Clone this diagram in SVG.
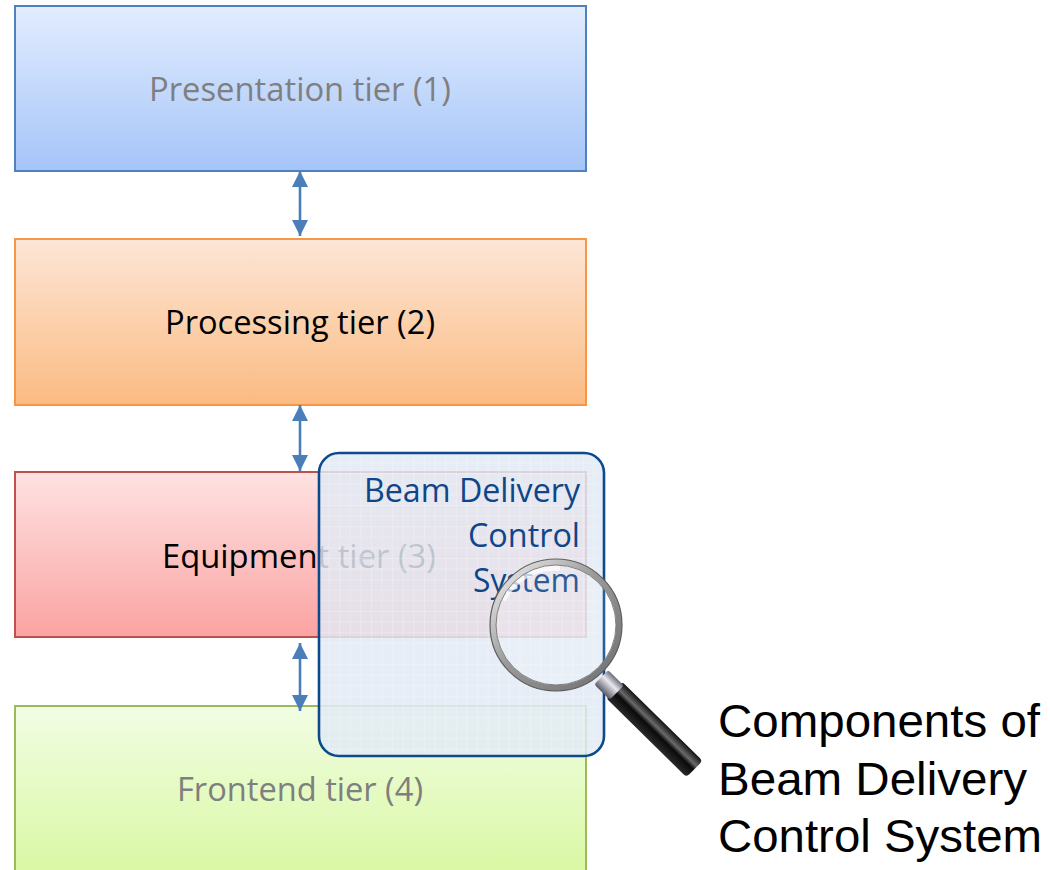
<svg xmlns="http://www.w3.org/2000/svg" width="1050" height="870" viewBox="0 0 1050 870">
  <defs>
    <linearGradient id="gBlue" x1="0" y1="0" x2="0" y2="1">
      <stop offset="0" stop-color="#e2edfe"/>
      <stop offset="1" stop-color="#a5c4f8"/>
    </linearGradient>
    <linearGradient id="gOrange" x1="0" y1="0" x2="0" y2="1">
      <stop offset="0" stop-color="#fde6d6"/>
      <stop offset="1" stop-color="#fbbb82"/>
    </linearGradient>
    <linearGradient id="gRed" x1="0" y1="0" x2="0" y2="1">
      <stop offset="0" stop-color="#fee2e2"/>
      <stop offset="1" stop-color="#fba3a2"/>
    </linearGradient>
    <linearGradient id="gGreen" x1="0" y1="0" x2="0" y2="1">
      <stop offset="0" stop-color="#f1fde3"/>
      <stop offset="1" stop-color="#d9f8a2"/>
    </linearGradient>
    <pattern id="grid" x="318" y="452" width="10.6" height="10.6" patternUnits="userSpaceOnUse">
      <path d="M0 0H10.6M0 0V10.6" fill="none" stroke="#ffffff" stroke-opacity="0.45" stroke-width="1"/>
    </pattern>
    <linearGradient id="gRing" x1="0" y1="0" x2="1" y2="1">
      <stop offset="0" stop-color="#f4f4f4"/>
      <stop offset="0.45" stop-color="#9a9a9a"/>
      <stop offset="1" stop-color="#6e6e6e"/>
    </linearGradient>
    <linearGradient id="gHandle" x1="0" y1="0" x2="0" y2="1">
      <stop offset="0" stop-color="#111"/>
      <stop offset="0.35" stop-color="#6a6a6a"/>
      <stop offset="0.55" stop-color="#0a0a0a"/>
      <stop offset="1" stop-color="#2a2a2a"/>
    </linearGradient>
    <linearGradient id="gCollar" x1="0" y1="0" x2="0" y2="1">
      <stop offset="0" stop-color="#6c6c7a"/>
      <stop offset="0.4" stop-color="#e8e8f0"/>
      <stop offset="1" stop-color="#5a5a66"/>
    </linearGradient>
    <marker id="ah" viewBox="0 0 10 10" refX="10" refY="5" markerWidth="6.2" markerHeight="6.2" orient="auto-start-reverse" markerUnits="strokeWidth">
      <path d="M0 0L10 5L0 10Z" fill="#4a7ebb"/>
    </marker>
  </defs>
  <style>
    .tier { stroke-width: 2; }
    .lbl { font-family: "Open Sans", "Noto Sans", sans-serif; font-size: 32px; text-anchor: middle; }
    .grey { fill: #7f7f7f; }
    .dark { fill: #000000; }
    .conn { stroke: #4a7ebb; stroke-width: 2.6; fill: none; marker-start: url(#ah); marker-end: url(#ah); }
    .bdcs { font-family: "Open Sans", "Noto Sans", sans-serif; font-size: 32px; fill: #0d4689; text-anchor: end; }
    .cap { font-family: "Liberation Sans", Arial, sans-serif; font-size: 46px; fill: #000; }
  </style>

  <!-- tiers -->
  <g id="presentation-tier">
    <rect class="tier" x="15" y="6" width="571" height="165" fill="url(#gBlue)" stroke="#4f81bd"/>
    <text class="lbl grey" x="300" y="101" textLength="302" lengthAdjust="spacingAndGlyphs">Presentation tier (1)</text>
  </g>
  <g id="processing-tier">
    <rect class="tier" x="15" y="239" width="571" height="166" fill="url(#gOrange)" stroke="#f79646"/>
    <text class="lbl dark" x="300" y="334" textLength="270" lengthAdjust="spacingAndGlyphs">Processing tier (2)</text>
  </g>
  <g id="equipment-tier">
    <rect class="tier" x="15" y="472" width="571" height="165" fill="url(#gRed)" stroke="#c0504d"/>
    <text class="lbl dark" x="299" y="568" textLength="274" lengthAdjust="spacingAndGlyphs">Equipment tier (3)</text>
  </g>
  <g id="frontend-tier">
    <rect class="tier" x="15" y="706" width="571" height="170" fill="url(#gGreen)" stroke="#9bbb59"/>
    <text class="lbl grey" x="300" y="801" textLength="246" lengthAdjust="spacingAndGlyphs">Frontend tier (4)</text>
  </g>

  <!-- connectors between tiers -->
  <g id="connectors">
    <line class="conn" x1="300" y1="171" x2="300" y2="236"/>
    <line class="conn" x1="300" y1="405" x2="300" y2="471"/>
    <line class="conn" x1="300" y1="643" x2="300" y2="711"/>
  </g>

  <!-- highlighted subsystem -->
  <g id="beam-delivery">
    <rect x="319" y="453" width="285" height="303" rx="20" fill="#e1e9f4" fill-opacity="0.84"/>
    <rect x="319" y="453" width="285" height="303" rx="20" fill="url(#grid)"/>
    <rect x="319" y="453" width="285" height="303" rx="20" fill="none" stroke="#0c4a8c" stroke-width="2.6"/>
    <text class="bdcs" x="580" y="502" textLength="216" lengthAdjust="spacingAndGlyphs">Beam Delivery</text>
    <text class="bdcs" x="580" y="547" textLength="112" lengthAdjust="spacingAndGlyphs">Control</text>
    <text class="bdcs" x="580" y="592" textLength="107" lengthAdjust="spacingAndGlyphs">System</text>
  </g>

  <!-- magnifying glass -->
  <g id="magnifier">
    <g transform="translate(604 680) rotate(44.5)">
      <rect x="14" y="-11.5" width="113" height="23" rx="4" fill="url(#gHandle)"/>
      <rect x="-4" y="-10" width="22" height="20" rx="3" fill="url(#gCollar)"/>
    </g>
    <circle cx="556" cy="625" r="63" fill="#ffffff" fill-opacity="0.12"/>
    <path d="M503 600 A58 58 0 0 1 560 568" fill="none" stroke="#ffffff" stroke-width="6" stroke-opacity="0.7"/>
    <circle cx="556" cy="625" r="63" fill="none" stroke="url(#gRing)" stroke-width="6"/>
    <circle cx="556" cy="625" r="66" fill="none" stroke="#5e5e5e" stroke-width="1.2"/>
    <circle cx="556" cy="625" r="60" fill="none" stroke="#808080" stroke-width="1"/>
  </g>

  <!-- caption -->
  <g id="caption">
    <text class="cap" x="718" y="737" textLength="322" lengthAdjust="spacingAndGlyphs">Components of</text>
    <text class="cap" x="718" y="795" textLength="309" lengthAdjust="spacingAndGlyphs">Beam Delivery</text>
    <text class="cap" x="718" y="852" textLength="324" lengthAdjust="spacingAndGlyphs">Control System</text>
  </g>
</svg>
